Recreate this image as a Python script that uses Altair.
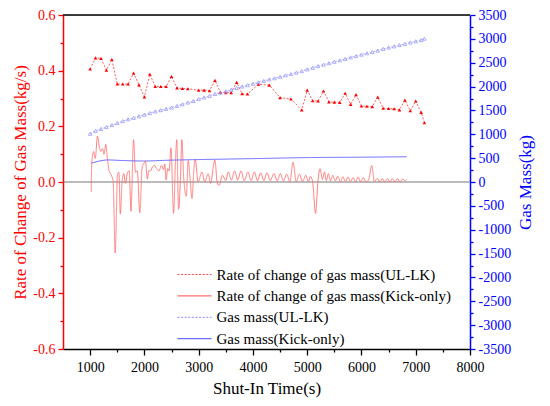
import altair as alt
import pandas as pd

FONT = "'Liberation Serif', 'Times New Roman', Times, serif"

S1 = "Rate of change of gas mass(UL-LK)"
S2 = "Rate of change of gas mass(Kick-only)"
S3 = "Gas mass(UL-LK)"
S4 = "Gas mass(Kick-only)"
SERIES = [S1, S2, S3, S4]
COLORS = ["#ff4a4a", "#ff7070", "#9c9cff", "#6b6bff"]
DASHES = [[2, 1.6], [1, 0], [2, 1.6], [1, 0]]

# Rate of change of gas mass (UL-LK), kg/s
ul_rate_t = [1000, 1100, 1200, 1300, 1400, 1500, 1600, 1700, 1800, 1900, 2000, 2100, 2200, 2300,
             2400, 2500, 2600, 2700, 2800, 3000, 3100, 3200, 3300, 3400, 3500, 3600, 3700, 3800,
             3900, 4100, 4300, 4500, 4700, 4900, 5000, 5100, 5200, 5300, 5400, 5500, 5600, 5700,
             5800, 5900, 6000, 6100, 6200, 6300, 6400, 6500, 6600, 6700, 6800, 6900, 7000, 7100, 7160]
ul_rate_v = [0.406, 0.446, 0.444, 0.402, 0.440, 0.352, 0.352, 0.352, 0.391, 0.349, 0.306, 0.387,
             0.343, 0.343, 0.343, 0.379, 0.338, 0.336, 0.335, 0.330, 0.330, 0.328, 0.365, 0.323,
             0.321, 0.321, 0.358, 0.317, 0.316, 0.351, 0.348, 0.303, 0.298, 0.259, 0.330, 0.292,
             0.291, 0.327, 0.288, 0.287, 0.286, 0.319, 0.279, 0.314, 0.273, 0.272, 0.271, 0.305,
             0.265, 0.264, 0.263, 0.259, 0.294, 0.256, 0.291, 0.250, 0.213]

# Rate of change of gas mass (Kick-only), kg/s
kick_rate_t = [1020, 1030, 1065, 1095, 1135, 1170, 1200, 1230, 1255, 1290, 1315, 1350, 1375, 1400,
               1425, 1462, 1505, 1530, 1556, 1590, 1620, 1650, 1690, 1720, 1753, 1800, 1835, 1870,
               1915, 1960, 1985, 2020, 2055, 2080, 2115, 2150, 2185, 2220, 2270, 2315, 2350, 2375,
               2400, 2430, 2455, 2490, 2538, 2573, 2596, 2630, 2666, 2690, 2725, 2772, 2807, 2842,
               2877, 2913, 2936, 2990, 3059, 3112, 3176, 3217, 3299, 3340, 3375, 3440, 3498, 3545,
               3603, 3662, 3720, 3779, 3838, 3908, 3966, 4025, 4084, 4142, 4201, 4259, 4318, 4388,
               4447, 4505, 4564, 4622, 4681, 4739, 4798, 4856, 4915, 4974, 5020, 5060, 5100, 5154,
               5195, 5236, 5283, 5318, 5353, 5389, 5430, 5471, 5517, 5564, 5611, 5658, 5705, 5752,
               5798, 5845, 5892, 5939, 5986, 6033, 6080, 6130, 6191, 6238, 6290, 6337, 6384, 6431,
               6478, 6525, 6571, 6618, 6665, 6712, 6759, 6806, 6835]
kick_rate_v = [-0.035, 0.065, 0.110, 0.085, 0.165, 0.125, 0.110, 0.120, 0.100, 0.135, 0.090, 0.040,
               0.030, 0.020, 0.000, -0.255, 0.030, 0.035, -0.115, 0.005, 0.030, -0.005, 0.035, 0.040,
               -0.105, 0.152, 0.035, 0.040, -0.110, 0.055, 0.065, 0.075, 0.010, 0.040, 0.040, 0.055,
               0.060, 0.050, 0.040, 0.060, 0.045, 0.065, 0.007, 0.048, 0.040, 0.123, -0.113, 0.077,
               0.152, -0.098, 0.020, 0.152, 0.013, -0.051, 0.077, 0.013, -0.059, 0.048, 0.083, 0.000,
               0.036, 0.001, 0.030, -0.005, 0.079, 0.000, -0.012, 0.024, 0.005, 0.036, 0.007, 0.040,
               0.007, 0.040, 0.005, 0.036, 0.005, 0.036, 0.005, 0.033, 0.005, 0.033, 0.005, 0.030,
               0.004, 0.030, 0.004, 0.028, 0.001, 0.071, 0.001, 0.028, 0.002, 0.024, 0.002, 0.020,
               0.000, -0.113, -0.005, 0.048, 0.009, 0.036, 0.005, 0.030, 0.004, 0.024, 0.004, 0.021,
               0.001, 0.019, 0.001, 0.018, 0.001, 0.016, 0.001, 0.018, 0.001, 0.016, 0.000, 0.007,
               0.059, 0.001, 0.013, 0.000, 0.012, 0.000, 0.012, 0.000, 0.012, 0.000, 0.012, 0.000,
               0.011, 0.004, 0.009]

# Gas mass (UL-LK), kg
ul_mass_t = [1000, 1100, 1200, 1300, 1400, 1500, 1600, 1700, 1800, 1900, 2000, 2100, 2200, 2300,
             2400, 2500, 2600, 2700, 2800, 2900, 3000, 3100, 3200, 3300, 3400, 3500, 3600, 3700,
             3800, 3900, 4000, 4100, 4200, 4300, 4400, 4500, 4600, 4700, 4800, 4900, 5000, 5100,
             5200, 5300, 5400, 5500, 5600, 5700, 5800, 5900, 6000, 6100, 6200, 6300, 6400, 6500,
             6600, 6700, 6800, 6900, 7000, 7100, 7160]
ul_mass_v = [1011, 1072, 1113, 1153, 1194, 1235, 1276, 1316, 1343, 1377, 1411, 1445, 1479, 1506,
             1533, 1560, 1594, 1628, 1665, 1698, 1737, 1771, 1805, 1846, 1872, 1899, 1933, 1967,
             2001, 2028, 2060, 2090, 2120, 2150, 2175, 2205, 2235, 2262, 2292, 2325, 2360, 2395,
             2430, 2460, 2490, 2520, 2550, 2580, 2612, 2640, 2670, 2698, 2725, 2754, 2790, 2818,
             2842, 2869, 2896, 2924, 2950, 2975, 3005]

# Gas mass (Kick-only), kg
kick_mass_t = [1020, 1150, 1330, 1600, 2000, 2400, 2900, 3500, 4000, 5040, 6000, 6835]
kick_mass_v = [393, 434, 462, 450, 440, 455, 468, 480, 490, 512, 520, 529]

x_ticks = [1000, 1500, 2000, 2500, 3000, 3500, 4000, 4500, 5000, 5500, 6000, 6500, 7000, 7500, 8000]
left_ticks = [-0.6, -0.5, -0.4, -0.3, -0.2, -0.1, 0.0, 0.1, 0.2, 0.3, 0.4, 0.5, 0.6]
right_ticks = [-3500, -3250, -3000, -2750, -2500, -2250, -2000, -1750, -1500, -1250, -1000, -750,
               -500, -250, 0, 250, 500, 750, 1000, 1250, 1500, 1750, 2000, 2250, 2500, 2750, 3000,
               3250, 3500]

W, H = 407, 334

ul_rate = pd.DataFrame({"t": ul_rate_t, "v": ul_rate_v, "series": S1})
kick_rate = pd.DataFrame({"t": kick_rate_t, "v": kick_rate_v, "series": S2})
ul_mass = pd.DataFrame({"t": ul_mass_t, "m": ul_mass_v, "series": S3})
kick_mass = pd.DataFrame({"t": kick_mass_t, "m": kick_mass_v, "series": S4})
zero_df = pd.DataFrame({"v": [0.0]})

RED = "#ff0000"
BLUE = "#0000ff"

x_enc = alt.X(
    "t:Q",
    scale=alt.Scale(domain=[500, 8000], nice=False, zero=False),
    axis=alt.Axis(
        values=x_ticks,
        labelExpr="datum.value % 1000 == 0 ? '' + datum.value : ''",
        tickSize={"condition": {"test": "datum.value % 1000 != 0", "value": 3}, "value": 6},
        labelOverlap=False, labelFlush=False, grid=False,
        domainColor="black", tickColor="black", labelColor="black", titleColor="black",
        domainWidth=1.5, tickWidth=1.3, labelFont=FONT, labelFontSize=14, labelPadding=5,
        titleFont=FONT, titleFontSize=17, titleFontWeight="normal", titlePadding=6,
    ),
    title="Shut-In Time(s)",
)

yL = alt.Y(
    "v:Q",
    scale=alt.Scale(domain=[-0.6, 0.6], nice=False, zero=False),
    axis=alt.Axis(
        orient="left", values=left_ticks,
        labelExpr="abs(round(datum.value*10)) % 2 == 0 ? ((datum.value < -0.001 ? '-' : '') + format(abs(datum.value), '.1f')) : ''",
        tickSize={"condition": {"test": "abs(round(datum.value*10)) % 2 == 1", "value": 3}, "value": 5},
        labelOverlap=False, grid=False,
        domainColor=RED, tickColor=RED, labelColor=RED, titleColor=RED,
        domainWidth=1.5, tickWidth=1.3, labelFont=FONT, labelFontSize=14, labelPadding=3,
        titleFont=FONT, titleFontSize=17, titleFontWeight="normal", titlePadding=3,
    ),
    title="Rate of Change of Gas Mass(kg/s)",
)

yR = alt.Y(
    "m:Q",
    scale=alt.Scale(domain=[-3500, 3500], nice=False, zero=False),
    axis=alt.Axis(
        orient="right", values=right_ticks,
        labelExpr="datum.value % 500 == 0 ? ((datum.value < 0 ? '-' : '') + abs(datum.value)) : ''",
        tickSize={"condition": {"test": "datum.value % 500 != 0", "value": 3}, "value": 5},
        labelOverlap=False, grid=False,
        domainColor=BLUE, tickColor=BLUE, labelColor=BLUE, titleColor=BLUE,
        domainWidth=1.5, tickWidth=1.3, labelFont=FONT, labelFontSize=14, labelPadding=3,
        titleFont=FONT, titleFontSize=17, titleFontWeight="normal", titlePadding=7,
        titleAngle=270, titleBaseline="top",
    ),
    title="Gas Mass(kg)",
)

legend = alt.Legend(
    orient="none", legendX=122, legendY=250, title=None,
    labelFont=FONT, labelFontSize=15, labelColor="black", labelLimit=400,
    symbolType="M-2,0H2", symbolSize=289, symbolStrokeWidth=1.2,
    labelOffset=12.5, rowPadding=3.4, padding=0,
)
color_enc = alt.Color("series:N", scale=alt.Scale(domain=SERIES, range=COLORS), legend=legend)
dash_enc = alt.StrokeDash("series:N", scale=alt.Scale(domain=SERIES, range=DASHES), legend=legend)

top_border = alt.Chart(zero_df).mark_rule(color="black", strokeWidth=1.5).encode(y=alt.value(0))
zero_rule = alt.Chart(zero_df).mark_rule(color="#666666", strokeWidth=0.9).encode(y=yL)

kick_rate_line = alt.Chart(kick_rate).mark_line(strokeWidth=0.9, interpolate="monotone").encode(
    x=x_enc, y=yL, color=color_enc, strokeDash=dash_enc)
ul_rate_line = alt.Chart(ul_rate).mark_line(strokeWidth=0.9).encode(
    x=x_enc, y=yL, color=color_enc, strokeDash=dash_enc)
ul_rate_pts = alt.Chart(ul_rate).mark_point(shape="triangle-up", filled=True, color=RED, size=13, opacity=1).encode(
    x=x_enc, y=yL)

ul_mass_line = alt.Chart(ul_mass).mark_line(strokeWidth=0.8).encode(
    x=x_enc, y=yR, color=color_enc, strokeDash=dash_enc)
ul_mass_pts = alt.Chart(ul_mass).mark_point(shape="triangle-up", filled=False, color="#9a9aff", size=13,
                                            strokeWidth=0.8, opacity=1).encode(x=x_enc, y=yR)
kick_mass_line = alt.Chart(kick_mass).mark_line(strokeWidth=1.0, interpolate="monotone").encode(
    x=x_enc, y=yR, color=color_enc, strokeDash=dash_enc)

left = alt.layer(zero_rule, kick_rate_line, ul_rate_line, ul_rate_pts)
right = alt.layer(ul_mass_line, ul_mass_pts, kick_mass_line)

chart = alt.layer(left, right, top_border).resolve_scale(y="independent").properties(
    width=W, height=H,
    autosize=alt.AutoSizeParams(type="none"),
    padding={"left": 55, "top": 7, "right": 72, "bottom": 49},
).configure_view(stroke=None).configure(font=FONT)

chart.save("out.html", embed_options={"renderer": "svg", "actions": False})
